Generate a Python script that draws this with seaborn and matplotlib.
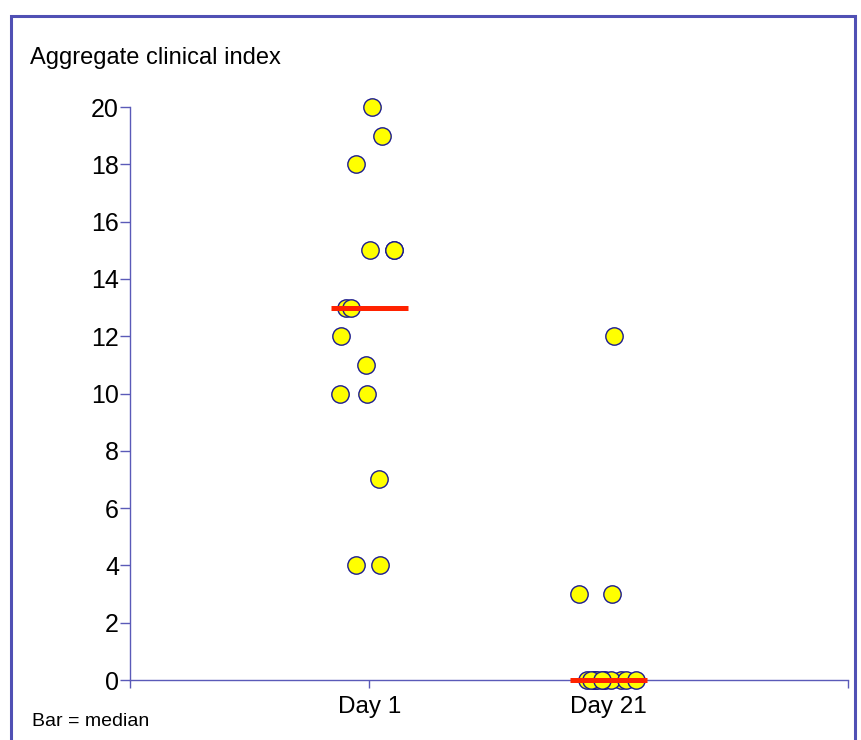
import numpy as np
import pandas as pd
import matplotlib
matplotlib.use("Agg")
import matplotlib.pyplot as plt
import seaborn as sns
from matplotlib.patches import Rectangle

# Data
days = ['Day 1', 'Day 21']
day1_scores = [20, 19, 18, 15, 15, 15, 13, 13, 12, 11, 10, 10, 7, 4, 4]
day21_scores = [12, 3, 3, 0, 0, 0, 0, 0, 0, 0, 0, 0, 0, 0, 0]
y_ticks = [0, 2, 4, 6, 8, 10, 12, 14, 16, 18, 20]

df = pd.DataFrame({
    'day': [days[0]] * len(day1_scores) + [days[1]] * len(day21_scores),
    'score': day1_scores + day21_scores,
})

axis_blue = '#5a5ab8'

sns.set_style("white")
plt.rcParams['font.family'] = ['Liberation Sans', 'DejaVu Sans']
plt.rcParams['text.color'] = 'black'
plt.rcParams['xtick.color'] = 'black'
plt.rcParams['ytick.color'] = 'black'

fig = plt.figure(figsize=(8.61, 7.40), dpi=100)
ax = fig.add_axes([130 / 861, 1 - 680 / 740, (848 - 130) / 861, (680 - 107) / 740])

np.random.seed(3)
sns.stripplot(data=df, x='day', y='score', order=days, ax=ax,
              jitter=0.13, size=12.5, color='#ffff00',
              edgecolor='#1a1a90', linewidth=1.0, zorder=3)
for coll in ax.collections:
    coll.set_clip_on(False)

# median bars
medians = df.groupby('day')['score'].median()
for i, d in enumerate(days):
    ax.hlines(medians[d], i - 0.16, i + 0.16, color='#ff2200', linewidth=3.6,
              zorder=4, clip_on=False)

ax.set_xlim(-1, 2)
ax.set_ylim(0, 20)
ax.set_xticks([-1, 0, 1, 2])
ax.set_xticklabels(['', 'Day 1', 'Day 21', ''])
ax.set_yticks(y_ticks)
ax.set_xlabel('')
ax.set_ylabel('')

for s in ['top', 'right']:
    ax.spines[s].set_visible(False)
for s in ['left', 'bottom']:
    ax.spines[s].set_color(axis_blue)
    ax.spines[s].set_linewidth(1.0)

ax.tick_params(axis='y', length=7, width=1.0, color=axis_blue, direction='out',
               pad=1, labelsize=18, labelcolor='black', left=True)
ax.tick_params(axis='x', length=5.5, width=1.0, color=axis_blue, direction='out',
               pad=6, labelsize=17.5, labelcolor='black', bottom=True)

fig.text(30 / 861, 1 - 58 / 740, 'Aggregate clinical index', fontsize=17,
         va='center', ha='left', color='black')
fig.text(32 / 861, 1 - 722 / 740, 'Bar = median', fontsize=14,
         va='center', ha='left', color='black')

# outer frame
fig.patches.append(Rectangle((11 / 861, -0.1), (855 - 11) / 861, 1.1 - 16 / 740,
                             transform=fig.transFigure, fill=False,
                             edgecolor='#5050b4', linewidth=2.2))

fig.savefig('out.png', dpi=100)
